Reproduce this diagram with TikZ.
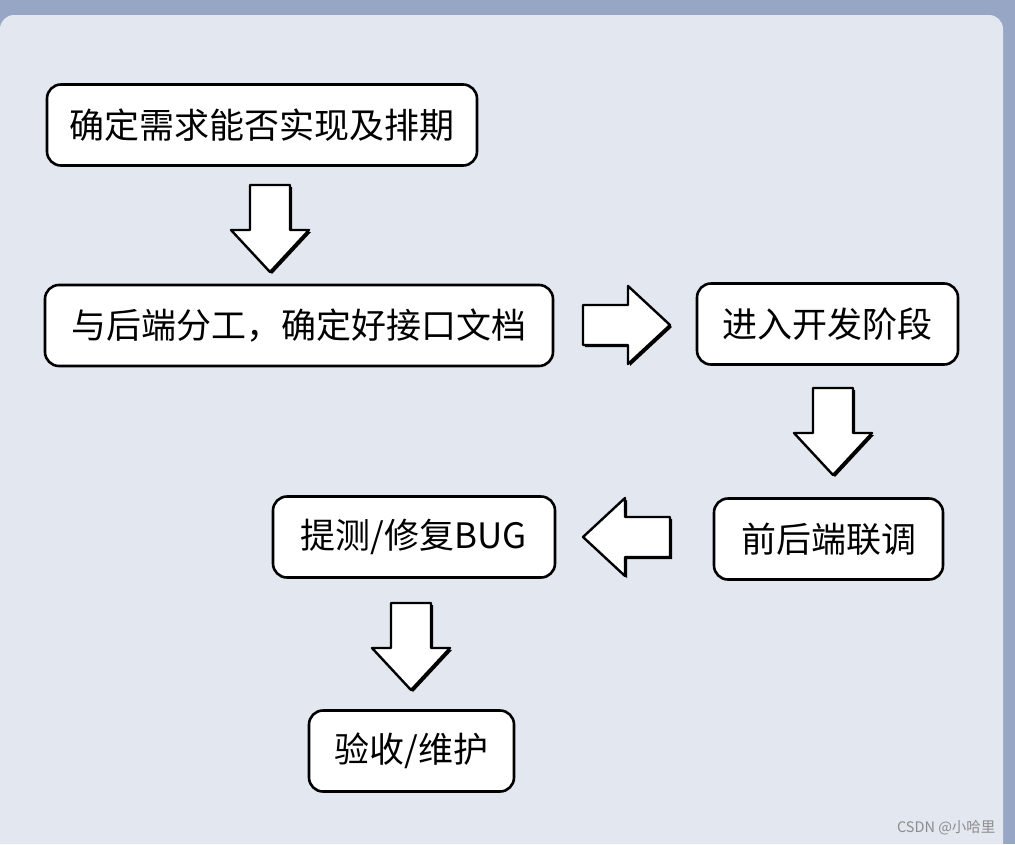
\documentclass[tikz,border=0pt]{standalone}
\usepackage{fontspec}
\usepackage{xcolor}
\usepackage{tikz}
\usetikzlibrary{calc}
\newfontfamily\cjk{Noto Sans CJK SC}
\definecolor{framebg}{HTML}{96A6C4}
\definecolor{panelbg}{HTML}{E3E7F0}
\definecolor{markgray}{HTML}{8C8C8C}
% block arrow pointing right, tail centre at origin
\newcommand{\arrowoutline}{(0,-20) -- (45,-20) -- (45,-39) -- (87,0) -- (45,39) -- (45,20) -- (0,20) -- cycle}
\newcommand{\blockarrow}[2]{%
  \begin{scope}[shift={($#1+(2,2)$)},rotate=#2]
    \fill[black,line join=round] \arrowoutline;
  \end{scope}
  \begin{scope}[shift={#1},rotate=#2]
    \draw[fill=white,line width=2.4pt,line join=round] \arrowoutline;
  \end{scope}}

\begin{document}
\begin{tikzpicture}[x=1pt,y=-1pt,font=\cjk\fontsize{35}{40}\selectfont,
  stepbox/.style={draw,line width=2.6pt,rounded corners=14pt,fill=white,inner sep=0pt,align=center,minimum height=81pt}]
\useasboundingbox (0,0) rectangle (1015,844);
\fill[framebg] (0,0) rectangle (1015,844);
\fill[panelbg,rounded corners=14pt] (0,844) -- (0,15) -- (1003,15) -- (1003,844);

\node[stepbox,minimum width=430pt] (plan) at (262,125) {确定需求能否实现及排期};
\node[stepbox,minimum width=508pt] (api) at (299,325.5) {与后端分工，确定好接口文档};
\node[stepbox,minimum width=261pt] (dev) at (827.5,324) {进入开发阶段};
\node[stepbox,minimum width=229pt] (joint) at (828.5,539) {前后端联调};
\node[stepbox,minimum width=282pt] (test) at (414,537) {提测/修复BUG};
\node[stepbox,minimum width=205pt] (accept) at (411.5,751) {验收/维护};

\blockarrow{(270,185)}{-90}
\blockarrow{(583,325)}{0}
\blockarrow{(833,388)}{-90}
\blockarrow{(670,537)}{180}
\blockarrow{(411,603)}{-90}

\node[anchor=east,text=markgray,font=\cjk\fontsize{14.5}{16}\selectfont] (mark) at (999,828) {CSDN @小哈里};
\end{tikzpicture}
\end{document}
